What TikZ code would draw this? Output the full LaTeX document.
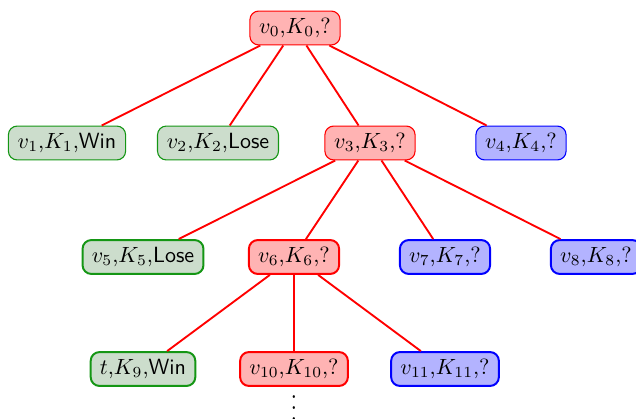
\documentclass[tikz,border=0pt]{standalone}
\usetikzlibrary{positioning}
\definecolor{rfill}{RGB}{255,179,179}
\definecolor{gfill}{RGB}{204,221,204}
\definecolor{bfill}{RGB}{179,179,255}
\definecolor{gline}{RGB}{20,150,20}
\tikzset{
  base/.style={rounded corners=4pt, minimum height=15.4pt, inner xsep=4.2pt, inner ysep=2pt, anchor=center},
  rn/.style={base, draw=red, fill=rfill},
  gn/.style={base, draw=gline, fill=gfill},
  bn/.style={base, draw=blue, fill=bfill},
  thin1/.style={line width=0.5pt},
  thick2/.style={line width=0.9pt},
  edge/.style={draw=red, line width=0.85pt},
}
\begin{document}
\begin{tikzpicture}[x=0.4545pt, y=-0.4545pt]
\useasboundingbox (0,0) rectangle (636,418);
\node[rn, thin1] (v0) at (295,28) {$v_0$,$K_0$,?};
\node[gn, thin1] (v1) at (67,143) {$v_1$,$K_1$,\textsf{Win}};
\node[gn, thin1] (v2) at (218,143) {$v_2$,$K_2$,\textsf{Lose}};
\node[rn, thin1] (v3) at (370,143) {$v_3$,$K_3$,?};
\node[bn, thin1] (v4) at (521,143) {$v_4$,$K_4$,?};
\node[gn, thick2] (v5) at (143,257) {$v_5$,$K_5$,\textsf{Lose}};
\node[rn, thick2] (v6) at (294,257) {$v_6$,$K_6$,?};
\node[bn, thick2] (v7) at (445,257) {$v_7$,$K_7$,?};
\node[bn, thick2] (v8) at (596,257) {$v_8$,$K_8$,?};
\node[gn, thick2] (v9) at (143,369) {$t$,$K_9$,\textsf{Win}};
\node[rn, thick2] (v10) at (294,369) {$v_{10}$,$K_{10}$,?};
\node[bn, thick2] (v11) at (445,369) {$v_{11}$,$K_{11}$,?};
\node[inner sep=0pt, anchor=base] (dots) at (294,420) {\scalebox{1}[1.25]{$\vdots$}};
\foreach \c in {v1,v2,v3,v4} \draw[edge] (v0) -- (\c);
\foreach \c in {v5,v6,v7,v8} \draw[edge] (v3) -- (\c);
\foreach \c in {v9,v10,v11} \draw[edge] (v6) -- (\c);
\end{tikzpicture}
\end{document}
